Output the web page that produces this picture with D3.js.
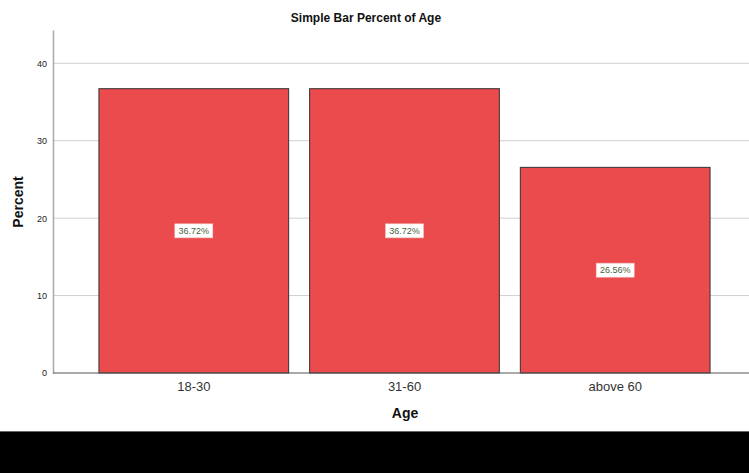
<!DOCTYPE html>
<html>
<head>
<meta charset="utf-8">
<script src="https://cdn.jsdelivr.net/npm/d3@7"></script>
<style>
  html, body { margin: 0; padding: 0; background: #fff; }
  svg { display: block; }
  text { font-family: "Liberation Sans", Arial, sans-serif; }
</style>
</head>
<body>
<svg id="chart" width="749" height="473"></svg>
<script>
// Age groups and their share of respondents (%)
const categories = ["18-30", "31-60", "above 60"];
const percents = [36.72, 36.72, 26.56];
const yTicks = [0, 10, 20, 30, 40];

const svg = d3.select("#chart");
const W = 749, H = 473;

const plot = { left: 53, right: 756, top: 30, bottom: 373 };

const x = d3.scaleBand()
  .domain(categories)
  .range([plot.left, plot.right])
  .paddingInner(0.0995)
  .paddingOuter(0.218);

const y = d3.scaleLinear()
  .domain([0, 44.3])
  .range([plot.bottom, plot.top]);

// Gridlines
svg.append("g")
  .selectAll("line")
  .data(yTicks.filter(d => d > 0))
  .join("line")
  .attr("x1", plot.left).attr("x2", W)
  .attr("y1", d => y(d)).attr("y2", d => y(d))
  .attr("stroke", "#cfcfcf").attr("stroke-width", 1);

// Y axis
const yAxis = svg.append("g")
  .attr("transform", `translate(${plot.left},0)`)
  .call(d3.axisLeft(y).tickValues(yTicks).tickSize(0).tickPadding(6));
yAxis.select(".domain").attr("stroke", "#a8a8a8").attr("stroke-width", 1.5);
yAxis.selectAll("text").attr("font-size", 9).attr("fill", "#222")
  .attr("font-family", "Liberation Sans, Arial, sans-serif");

// Bars
svg.append("g")
  .selectAll("rect")
  .data(percents)
  .join("rect")
  .attr("x", (d, i) => x(categories[i]))
  .attr("y", d => y(d))
  .attr("width", x.bandwidth())
  .attr("height", d => y(0) - y(d))
  .attr("fill", "#ec4b4d")
  .attr("stroke", "#333").attr("stroke-width", 1);

// Baseline
svg.append("line")
  .attr("x1", plot.left).attr("x2", W)
  .attr("y1", y(0)).attr("y2", y(0))
  .attr("stroke", "#555").attr("stroke-width", 1);

// X axis labels
const xAxis = svg.append("g")
  .attr("transform", `translate(0,${plot.bottom})`)
  .call(d3.axisBottom(x).tickSize(0).tickPadding(9));
xAxis.select(".domain").remove();
xAxis.selectAll("text").attr("font-size", 13).attr("fill", "#333")
  .attr("font-family", "Liberation Sans, Arial, sans-serif");

// Value labels in the middle of each bar
const labels = svg.append("g")
  .selectAll("g")
  .data(percents)
  .join("g")
  .attr("transform", (d, i) => `translate(${x(categories[i]) + x.bandwidth() / 2},${y(d / 2)})`);
labels.append("rect")
  .attr("x", -19).attr("y", -7).attr("width", 38).attr("height", 14)
  .attr("fill", "#fff").attr("stroke", "#f2c4c4").attr("stroke-width", 0.6);
labels.append("text")
  .attr("text-anchor", "middle").attr("dy", "0.35em")
  .attr("font-size", 9).attr("fill", "#4b5e3a")
  .text(d => d.toFixed(2) + "%");

// Titles
svg.append("text")
  .attr("x", 366).attr("y", 22)
  .attr("text-anchor", "middle")
  .attr("font-size", 12).attr("font-weight", "bold").attr("fill", "#111")
  .text("Simple Bar Percent of Age");

svg.append("text")
  .attr("transform", "translate(23,202) rotate(-90)")
  .attr("text-anchor", "middle")
  .attr("font-size", 14).attr("font-weight", "bold").attr("fill", "#111")
  .text("Percent");

svg.append("text")
  .attr("x", 405).attr("y", 418)
  .attr("text-anchor", "middle")
  .attr("font-size", 14).attr("font-weight", "bold").attr("fill", "#111")
  .text("Age");

// Frame edge and dark strip along the bottom
svg.append("line")
  .attr("x1", 0).attr("x2", W).attr("y1", 431.5).attr("y2", 431.5)
  .attr("stroke", "#666").attr("stroke-width", 1);
svg.append("rect")
  .attr("x", 0).attr("y", 432).attr("width", W).attr("height", H - 432)
  .attr("fill", "#000");
</script>
</body>
</html>
